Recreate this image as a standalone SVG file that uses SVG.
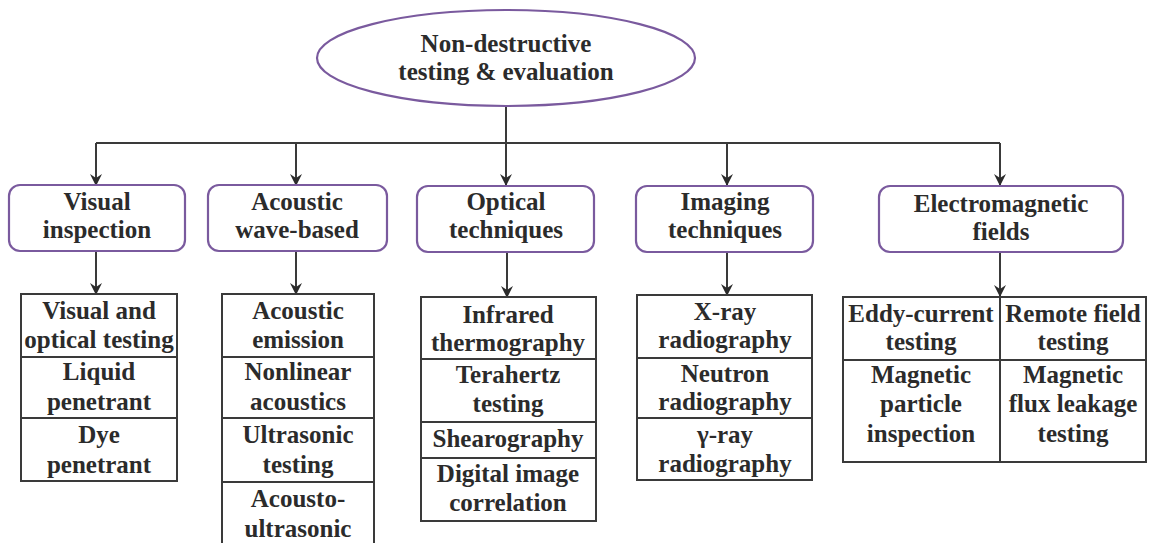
<svg xmlns="http://www.w3.org/2000/svg" width="1150" height="543" viewBox="0 0 1150 543">
<defs>
<style>
text{font-family:'Liberation Serif','Times New Roman',serif;font-weight:bold;font-size:25px;fill:#2b2b2b;text-anchor:middle}
.cat{fill:#fff;stroke:#7a5a9e;stroke-width:2.2}
.cell{fill:#fff;stroke:#3a3a3a;stroke-width:2}
.ln{fill:none;stroke:#3a3a3a;stroke-width:2}
</style>
<marker id="ah" viewBox="0 0 12 12" refX="11" refY="6" markerWidth="12" markerHeight="12" markerUnits="userSpaceOnUse" orient="auto">
<path d="M0,0 L12,6 L0,12 L4,6 Z" fill="#2b2b2b"/>
</marker>
</defs>
<rect width="1150" height="543" fill="#fff"/>
<g id="connectors">
<line class="ln" x1="506" y1="106" x2="506" y2="143"/>
<line class="ln" x1="96" y1="143" x2="1000" y2="143"/>
<line class="ln" x1="96" y1="143" x2="96" y2="185" marker-end="url(#ah)"/>
<line class="ln" x1="296" y1="143" x2="296" y2="185" marker-end="url(#ah)"/>
<line class="ln" x1="506" y1="143" x2="506" y2="185" marker-end="url(#ah)"/>
<line class="ln" x1="727" y1="143" x2="727" y2="185" marker-end="url(#ah)"/>
<line class="ln" x1="1000" y1="143" x2="1000" y2="185" marker-end="url(#ah)"/>
<line class="ln" x1="96" y1="252" x2="96" y2="294" marker-end="url(#ah)"/>
<line class="ln" x1="296" y1="252" x2="296" y2="294" marker-end="url(#ah)"/>
<line class="ln" x1="507" y1="252" x2="507" y2="297" marker-end="url(#ah)"/>
<line class="ln" x1="727" y1="252" x2="727" y2="295" marker-end="url(#ah)"/>
<line class="ln" x1="1000" y1="252" x2="1000" y2="296" marker-end="url(#ah)"/>
</g>
<g id="root">
<ellipse class="cat" cx="506" cy="58" rx="189" ry="48"/>
<text x="506" y="52">Non-destructive</text>
<text x="506" y="80">testing &amp; evaluation</text>
</g>
<g id="cat-visual">
<rect class="cat" x="9" y="185" width="176" height="66" rx="11"/>
<text x="97" y="210">Visual</text>
<text x="97" y="238">inspection</text>
</g>
<g id="cat-acoustic">
<rect class="cat" x="208" y="185" width="179" height="66" rx="11"/>
<text x="297" y="210">Acoustic</text>
<text x="297" y="238">wave-based</text>
</g>
<g id="cat-optical">
<rect class="cat" x="417" y="186" width="177" height="66" rx="11"/>
<text x="506" y="210">Optical</text>
<text x="506" y="238">techniques</text>
</g>
<g id="cat-imaging">
<rect class="cat" x="636" y="186" width="177" height="66" rx="11"/>
<text x="725" y="210">Imaging</text>
<text x="725" y="238">techniques</text>
</g>
<g id="cat-em">
<rect class="cat" x="879" y="186" width="244" height="66" rx="11"/>
<text x="1001" y="212">Electromagnetic</text>
<text x="1001" y="240">fields</text>
</g>
<g id="list-visual">
<rect class="cell" x="21" y="294" width="156" height="187"/>
<line class="ln" x1="21" y1="357" x2="177" y2="357"/>
<line class="ln" x1="21" y1="418" x2="177" y2="418"/>
<text x="99" y="319">Visual and</text>
<text x="99" y="348">optical testing</text>
<text x="99" y="380">Liquid</text>
<text x="99" y="410">penetrant</text>
<text x="99" y="443">Dye</text>
<text x="99" y="473">penetrant</text>
</g>
<g id="list-acoustic">
<rect class="cell" x="222" y="294" width="152" height="260"/>
<line class="ln" x1="222" y1="357" x2="374" y2="357"/>
<line class="ln" x1="222" y1="418" x2="374" y2="418"/>
<line class="ln" x1="222" y1="482" x2="374" y2="482"/>
<text x="298" y="319">Acoustic</text>
<text x="298" y="348">emission</text>
<text x="298" y="380">Nonlinear</text>
<text x="298" y="410">acoustics</text>
<text x="298" y="443">Ultrasonic</text>
<text x="298" y="473">testing</text>
<text x="298" y="507">Acousto-</text>
<text x="298" y="537">ultrasonic</text>
</g>
<g id="list-optical">
<rect class="cell" x="421" y="297" width="175" height="224"/>
<line class="ln" x1="421" y1="359" x2="596" y2="359"/>
<line class="ln" x1="421" y1="422" x2="596" y2="422"/>
<line class="ln" x1="421" y1="458" x2="596" y2="458"/>
<text x="508" y="323">Infrared</text>
<text x="508" y="351">thermography</text>
<text x="508" y="383">Terahertz</text>
<text x="508" y="412">testing</text>
<text x="508" y="447">Shearography</text>
<text x="508" y="482">Digital image</text>
<text x="508" y="511">correlation</text>
</g>
<g id="list-imaging">
<rect class="cell" x="637" y="295" width="175" height="185"/>
<line class="ln" x1="637" y1="358" x2="812" y2="358"/>
<line class="ln" x1="637" y1="418" x2="812" y2="418"/>
<text x="725" y="320">X-ray</text>
<text x="725" y="348">radiography</text>
<text x="725" y="382">Neutron</text>
<text x="725" y="410">radiography</text>
<text x="725" y="443">&#947;-ray</text>
<text x="725" y="472">radiography</text>
</g>
<g id="list-em">
<rect class="cell" x="843" y="297" width="303" height="165"/>
<line class="ln" x1="1000" y1="297" x2="1000" y2="462"/>
<line class="ln" x1="843" y1="360" x2="1146" y2="360"/>
<text x="921" y="322">Eddy-current</text>
<text x="921" y="350">testing</text>
<text x="921" y="383">Magnetic</text>
<text x="921" y="412">particle</text>
<text x="921" y="442">inspection</text>
<text x="1073" y="322">Remote field</text>
<text x="1073" y="350">testing</text>
<text x="1073" y="383">Magnetic</text>
<text x="1073" y="412">flux leakage</text>
<text x="1073" y="442">testing</text>
</g>
</svg>
